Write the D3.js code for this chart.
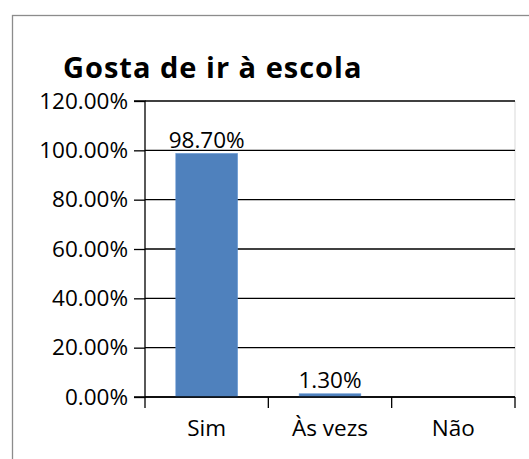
<!DOCTYPE html>
<html>
<head>
<meta charset="utf-8">
<script src="https://cdn.jsdelivr.net/npm/d3@7"></script>
<style>
  body { margin: 0; background: #fff; }
  svg { display: block; font-family: "Open Sans", sans-serif; }
</style>
</head>
<body>
<svg id="chart" width="529" height="459"></svg>
<script>
const categories = ["Sim", "Às vezs", "Não"];
const values = [98.7, 1.3, 0];
const labels = ["98.70%", "1.30%", null];
const yTicks = [0, 20, 40, 60, 80, 100, 120];

const svg = d3.select("#chart");
const plotLeft = 145, plotRight = 515, plotTop = 101, plotBottom = 397;

// outer chart border (runs off the right and bottom)
svg.append("rect")
    .attr("x", 12.5).attr("y", 15.5)
    .attr("width", 600).attr("height", 600)
    .attr("fill", "none")
    .attr("stroke", "#8c8c8c")
    .attr("stroke-width", 1.3);

svg.append("text")
    .attr("x", 63).attr("y", 78)
    .style("font-size", "29px")
    .style("font-weight", "bold")
    .style("letter-spacing", "1px")
    .text("Gosta de ir à escola");

const x = d3.scaleBand().domain(categories).range([plotLeft, plotRight]);
const y = d3.scaleLinear().domain([0, 120]).range([plotBottom, plotTop]);

// right edge of plot area
svg.append("line")
    .attr("x1", plotRight).attr("x2", plotRight)
    .attr("y1", plotTop).attr("y2", plotBottom)
    .attr("stroke", "#d9d9d9");

// gridlines
svg.append("g")
    .selectAll("line")
    .data(yTicks)
    .enter()
    .append("line")
    .attr("x1", plotLeft).attr("x2", plotRight)
    .attr("y1", d => y(d)).attr("y2", d => y(d))
    .attr("stroke", "#000")
    .attr("stroke-width", 1.3);

const rows = categories.map((c, i) => ({ cat: c, value: values[i], label: labels[i] }));

// bars
svg.append("g")
    .selectAll("rect")
    .data(rows)
    .enter()
    .append("rect")
    .attr("x", d => x(d.cat) + x.bandwidth() / 4)
    .attr("width", x.bandwidth() / 2)
    .attr("y", d => y(d.value))
    .attr("height", d => y(0) - y(d.value))
    .attr("fill", "#4f81bd")
    .attr("stroke", "#5b8fd0")
    .attr("stroke-width", 0.6);

// data labels
svg.append("g")
    .selectAll("text")
    .data(rows.filter(d => d.label !== null))
    .enter()
    .append("text")
    .attr("x", d => x(d.cat) + x.bandwidth() / 2)
    .attr("y", d => y(d.value) - 6)
    .attr("text-anchor", "middle")
    .style("font-size", "22.5px")
    .text(d => d.label);

// y axis
const yAxis = d3.axisLeft(y)
    .tickValues(yTicks)
    .tickFormat(d => d.toFixed(2) + "%")
    .tickSize(11)
    .tickPadding(6);
const gy = svg.append("g")
    .attr("transform", `translate(${plotLeft},0)`)
    .call(yAxis);
gy.select(".domain").attr("stroke", "#000").attr("stroke-width", 1.3)
    .attr("d", `M-11,${plotTop}H0V${plotBottom}H-11`);
gy.selectAll(".tick line").attr("stroke", "#000").attr("stroke-width", 1.3);
gy.selectAll(".tick text")
    .style("font-size", "22.5px")
    .style("font-family", "'Open Sans', sans-serif")
    .attr("fill", "#000");

// x axis
const xAxis = d3.axisBottom(x).tickSize(0).tickPadding(23);
const gx = svg.append("g")
    .attr("transform", `translate(0,${plotBottom})`)
    .call(xAxis);
gx.select(".domain").attr("stroke", "#000").attr("stroke-width", 1.3)
    .attr("d", `M${plotLeft},0H${plotRight}`);
gx.selectAll(".tick text")
    .style("font-size", "22.5px")
    .style("font-family", "'Open Sans', sans-serif")
    .attr("fill", "#000");
// category boundary ticks
const bounds = categories.map(c => x(c)).concat([plotRight]);
gx.append("g")
    .selectAll("line")
    .data(bounds)
    .enter()
    .append("line")
    .attr("x1", d => d).attr("x2", d => d)
    .attr("y1", 0).attr("y2", 11)
    .attr("stroke", "#000")
    .attr("stroke-width", 1.3);
</script>
</body>
</html>
